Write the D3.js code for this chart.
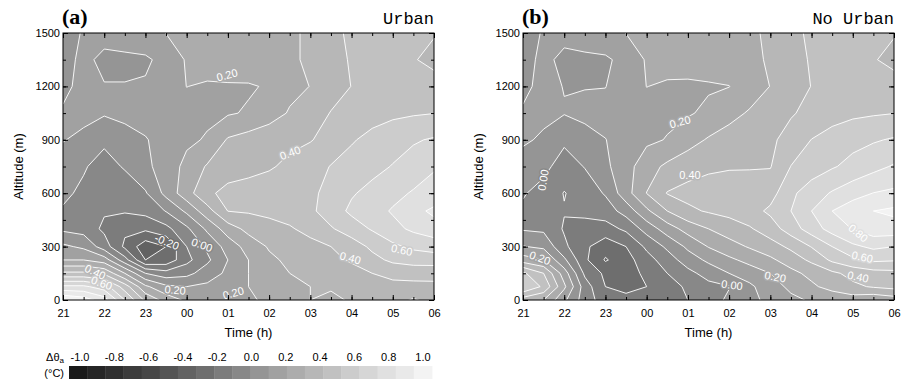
<!DOCTYPE html>
<html>
<head>
<meta charset="utf-8">
<script src="https://cdn.jsdelivr.net/npm/d3@7/dist/d3.min.js"></script>
<style>
body { margin:0; background:#fff; }
text { font-family: "Liberation Sans", Arial, sans-serif; }
</style>
</head>
<body>
<div id="chart"></div>
<script>
// Grid coordinates (hours after 21:00, altitude in m)
const gridHours = [0,0.5,1,1.5,2,2.5,3,3.5,4,4.5,5,5.5,6,6.5,7,7.5,8,8.5,9]
const altitudes = [0,75,150,225,300,400,500,600,750,900,1050,1200,1350,1500]
const hourLabels = ["21","22","23","00","01","02","03","04","05","06"]
const altTicks = [0,300,600,900,1200,1500]
const levels = [-1.0,-0.9,-0.8,-0.7,-0.6,-0.5,-0.4,-0.3,-0.2,-0.1,0.0,0.1,0.2,0.3,0.4,0.5,0.6,0.7,0.8,0.9]
const bandColors = ["#1a1a1a","#252525","#2f2f2f","#3c3c3c","#474747","#545454","#626262","#6e6e6e","#7c7c7c","#888888",
                    "#959595","#a1a1a1","#acacac","#b7b7b7","#c1c1c1","#cccccc","#d6d6d6","#e0e0e0","#e9e9e9","#f3f3f3"]
const barLabels = ["-1.0","-0.8","-0.6","-0.4","-0.2","0.0","0.2","0.4","0.6","0.8","1.0"]

// Δθa, one row per altitude (bottom to top), columns 21:00 ... 06:00 every 30 min
const urban = [
  [1.0,0.95,0.85,0.6,0.38,0.26,0.18,0.15,0.2,0.17,0.24,0.21,0.3,0.26,0.32,0.3,0.34,0.29,0.33],
  [0.72,0.72,0.65,0.45,0.22,0.12,0.1,0.12,0.17,0.2,0.24,0.27,0.3,0.32,0.33,0.35,0.37,0.37,0.38],
  [0.42,0.42,0.38,0.2,0.0,-0.06,-0.03,0.05,0.12,0.2,0.26,0.3,0.33,0.35,0.37,0.4,0.43,0.44,0.43],
  [0.2,0.2,0.15,-0.06,-0.3,-0.27,-0.13,-0.02,0.1,0.2,0.28,0.32,0.35,0.38,0.41,0.47,0.52,0.54,0.55],
  [0.12,0.08,-0.05,-0.22,-0.36,-0.3,-0.1,0.02,0.14,0.24,0.31,0.35,0.37,0.4,0.45,0.52,0.58,0.62,0.64],
  [-0.02,-0.04,-0.12,-0.18,-0.18,-0.13,-0.02,0.12,0.25,0.33,0.37,0.39,0.43,0.49,0.55,0.61,0.67,0.72,0.76],
  [-0.01,-0.05,-0.09,-0.09,-0.07,0.005,0.12,0.26,0.402,0.41,0.42,0.44,0.48,0.55,0.62,0.66,0.71,0.77,0.82],
  [0.02,-0.02,-0.07,-0.06,-0.01,0.13,0.26,0.38,0.43,0.44,0.45,0.46,0.48,0.53,0.59,0.63,0.67,0.71,0.74],
  [0.05,0.01,-0.04,0.01,0.08,0.14,0.23,0.31,0.35,0.37,0.39,0.42,0.45,0.505,0.54,0.57,0.605,0.64,0.69],
  [0.105,0.075,0.02,0.07,0.095,0.13,0.18,0.21,0.31,0.34,0.37,0.38,0.395,0.43,0.49,0.53,0.56,0.59,0.61],
  [0.11,0.13,0.11,0.12,0.13,0.15,0.17,0.18,0.19,0.21,0.25,0.31,0.34,0.405,0.43,0.46,0.48,0.49,0.498],
  [0.08,0.125,0.104,0.104,0.11,0.15,0.201,0.19,0.19,0.19,0.21,0.27,0.302,0.35,0.402,0.43,0.45,0.46,0.46],
  [0.07,0.12,0.08,0.08,0.085,0.13,0.21,0.24,0.26,0.27,0.28,0.29,0.31,0.36,0.41,0.44,0.44,0.41,0.36],
  [0.05,0.11,0.13,0.15,0.17,0.202,0.23,0.25,0.26,0.27,0.28,0.29,0.31,0.37,0.42,0.44,0.43,0.41,0.41]
]
const noUrban = [
  [0.35,0.3,0.12,-0.05,-0.15,-0.18,-0.15,-0.15,-0.1,-0.05,0.02,0.08,0.12,0.18,0.21,0.22,0.25,0.22,0.25],
  [0.6,0.48,0.22,-0.05,-0.2,-0.22,-0.2,-0.15,-0.08,-0.03,-0.005,0.08,0.16,0.22,0.28,0.34,0.38,0.41,0.43],
  [0.52,0.4,0.15,-0.12,-0.22,-0.24,-0.18,-0.1,-0.03,0.04,0.1,0.15,0.2,0.27,0.33,0.38,0.43,0.46,0.47],
  [0.25,0.202,0.02,-0.18,-0.31,-0.24,-0.14,-0.05,0.05,0.12,0.18,0.23,0.28,0.35,0.42,0.52,0.58,0.62,0.61],
  [0.105,0.08,-0.08,-0.18,-0.26,-0.2,-0.08,0.02,0.12,0.205,0.26,0.31,0.36,0.42,0.505,0.6,0.68,0.72,0.7],
  [-0.01,-0.02,-0.11,-0.13,-0.14,-0.08,0.04,0.15,0.24,0.3,0.35,0.39,0.45,0.55,0.65,0.74,0.805,0.86,0.86],
  [-0.02,-0.03,-0.095,-0.08,-0.05,0.04,0.18,0.3,0.38,0.41,0.43,0.46,0.52,0.6,0.7,0.8,0.86,0.9,0.92],
  [0.01,-0.04,-0.104,-0.06,0.01,0.16,0.302,0.405,0.43,0.45,0.46,0.47,0.46,0.58,0.65,0.71,0.76,0.802,0.82],
  [0.04,0.03,-0.05,0.005,0.08,0.16,0.26,0.32,0.36,0.38,0.39,0.39,0.395,0.502,0.55,0.59,0.63,0.67,0.71],
  [0.12,0.08,0.02,0.07,0.098,0.14,0.18,0.205,0.26,0.31,0.34,0.36,0.38,0.44,0.502,0.54,0.57,0.59,0.61],
  [0.11,0.13,0.105,0.12,0.13,0.15,0.17,0.18,0.19,0.22,0.27,0.31,0.35,0.39,0.43,0.46,0.48,0.49,0.498],
  [0.08,0.125,0.097,0.097,0.098,0.15,0.201,0.19,0.185,0.19,0.198,0.25,0.302,0.36,0.402,0.43,0.45,0.46,0.46],
  [0.07,0.12,0.08,0.08,0.085,0.13,0.21,0.23,0.24,0.25,0.26,0.28,0.31,0.36,0.41,0.44,0.44,0.41,0.36],
  [0.05,0.11,0.125,0.15,0.17,0.202,0.23,0.25,0.26,0.27,0.28,0.29,0.31,0.37,0.42,0.44,0.43,0.41,0.41]
]

// contour labels: [hours after 21:00, altitude, text, angle]
const urbanLabels = [
  [3.98,1264,"0.20",-15],[5.51,826,"0.40",-20],[2.52,326,"-0.20",22],[3.37,309,"0.00",20],
  [0.78,157,"0.40",25],[0.94,95,"0.60",20],[2.72,56,"0.20",5],[4.13,39,"0.20",-15],
  [6.97,236,"0.40",15],[8.22,281,"0.60",12]
]
const noUrbanLabels = [
  [3.81,1000,"0.20",-15],[4.05,700,"0.40",0],[0.49,674,"0.00",-80],[0.41,236,"0.20",20],
  [5.07,84,"0.00",8],[6.12,130,"0.20",10],[8.13,130,"0.40",12],[8.23,242,"0.60",12],[8.13,376,"0.80",40]
]

const panels = [
  {grid: urban, labels: urbanLabels, left: 63, tag: "(a)", name: "Urban"},
  {grid: noUrban, labels: noUrbanLabels, left: 523, tag: "(b)", name: "No Urban"}
]

const dims = {width: 905, height: 382, plotW: 371, top: 33, bottom: 300}

const svg = d3.select('#chart').append('svg')
    .attr('width', dims.width)
    .attr('height', dims.height)

const y = d3.scaleLinear().domain([0, 1500]).range([dims.bottom, dims.top])
const idxToHour = d3.scaleLinear().domain(gridHours.map((d, i) => i)).range(gridHours)
const idxToAlt = d3.scaleLinear().domain(altitudes.map((d, i) => i)).range(altitudes)
const color = d3.scaleThreshold().domain(levels.slice(1)).range(bandColors)

const contours = d3.contours()
    .size([gridHours.length, altitudes.length])
    .thresholds(levels)

panels.forEach((p, pi) => {
    const x = d3.scaleLinear().domain([0, 9]).range([p.left, p.left + dims.plotW])
    const proj = d3.geoTransform({
        point(px, py) { this.stream.point(x(idxToHour(px - 0.5)), y(idxToAlt(py - 0.5))) }
    })
    const path = d3.geoPath(proj)
    const shapes = contours(p.grid.flat())

    const clipId = 'clip' + pi
    svg.append('clipPath').attr('id', clipId)
      .append('rect')
        .attr('x', p.left).attr('y', dims.top)
        .attr('width', dims.plotW).attr('height', dims.bottom - dims.top)

    const ctr = svg.append('g').attr('clip-path', `url(#${clipId})`)

    ctr.selectAll('path.fill')
        .data(shapes)
        .join('path')
        .attr('class', 'fill')
        .attr('d', path)
        .attr('fill', (d, i) => bandColors[i])
        .attr('stroke', (d, i) => bandColors[i])
        .attr('stroke-width', 0.3)

    ctr.selectAll('path.iso')
        .data(shapes.slice(1))
        .join('path')
        .attr('class', 'iso')
        .attr('d', path)
        .attr('fill', 'none')
        .attr('stroke', '#fff')
        .attr('stroke-width', 0.9)

    // value under a label, for the halo colour
    const valueAt = (h, a) => {
        const i = Math.max(0, Math.min(gridHours.length - 2, Math.floor(h / 0.5)))
        let j = d3.bisectRight(altitudes, a) - 1
        j = Math.max(0, Math.min(altitudes.length - 2, j))
        const fx = (h - gridHours[i]) / (gridHours[i + 1] - gridHours[i])
        const fy = (a - altitudes[j]) / (altitudes[j + 1] - altitudes[j])
        const g = p.grid
        return (1 - fy) * ((1 - fx) * g[j][i] + fx * g[j][i + 1]) + fy * ((1 - fx) * g[j + 1][i] + fx * g[j + 1][i + 1])
    }

    ctr.selectAll('text.lab')
        .data(p.labels)
        .join('text')
        .attr('class', 'lab')
        .attr('transform', d => `translate(${x(d[0])},${y(d[1])}) rotate(${d[3]})`)
        .attr('text-anchor', 'middle')
        .attr('dy', '0.35em')
        .attr('font-size', 11)
        .attr('fill', '#fff')
        .attr('stroke', d => color(valueAt(d[0], d[1])))
        .attr('stroke-width', 3)
        .attr('paint-order', 'stroke')
        .text(d => d[2])

    // Axes
    const axG = svg.append('g')
    const xMinor = d3.axisBottom(x).tickValues(gridHours).tickSize(-3).tickFormat('')
    const xMajor = d3.axisBottom(x).tickValues(d3.range(10)).tickSize(-5).tickPadding(9)
        .tickFormat((d, i) => hourLabels[i])
    const yMinor = d3.axisLeft(y).tickValues(d3.range(0, 1501, 150)).tickSize(-3).tickFormat('')
    const yMajor = d3.axisLeft(y).tickValues(altTicks).tickSize(-5).tickPadding(3).tickFormat(d3.format('d'))

    const place = (axis, tx, ty) => {
        const g = axG.append('g').attr('transform', `translate(${tx},${ty})`).call(axis)
        g.select('.domain').remove()
        g.selectAll('text').attr('font-size', 11).attr('fill', '#000')
          .style('font-family', '"Liberation Sans", Arial, sans-serif')
        return g
    }
    place(xMinor, 0, dims.bottom)
    place(xMajor, 0, dims.bottom)
    place(d3.axisTop(x).tickValues(gridHours).tickSize(-3).tickFormat(''), 0, dims.top)
    place(d3.axisTop(x).tickValues(d3.range(10)).tickSize(-5).tickFormat(''), 0, dims.top)
    place(yMinor, p.left, 0)
    place(yMajor, p.left, 0)
    place(d3.axisRight(y).tickValues(d3.range(0, 1501, 150)).tickSize(-3).tickFormat(''), p.left + dims.plotW, 0)
    place(d3.axisRight(y).tickValues(altTicks).tickSize(-5).tickFormat(''), p.left + dims.plotW, 0)

    svg.append('rect')
        .attr('x', p.left).attr('y', dims.top)
        .attr('width', dims.plotW).attr('height', dims.bottom - dims.top)
        .attr('fill', 'none').attr('stroke', '#000').attr('stroke-width', 1)

    svg.append('text')
        .text('Time (h)')
        .attr('x', p.left + dims.plotW / 2)
        .attr('y', 337)
        .attr('text-anchor', 'middle')
        .attr('font-size', 13)

    svg.append('text')
        .text('Altitude (m)')
        .attr('transform', `translate(${p.left - 40},${(dims.top + dims.bottom) / 2}) rotate(-90)`)
        .attr('text-anchor', 'middle')
        .attr('font-size', 13)

    svg.append('text')
        .text(p.tag)
        .attr('x', p.left - 1)
        .attr('y', 24)
        .attr('font-size', 22)
        .attr('font-weight', 'bold')
        .style('font-family', '"Liberation Serif", "Times New Roman", serif')

    svg.append('text')
        .text(p.name)
        .attr('x', p.left + dims.plotW)
        .attr('y', 24)
        .attr('text-anchor', 'end')
        .attr('font-size', 17)
        .style('font-family', '"Liberation Mono", "Courier New", monospace')
})

// Colour bar
const cb = d3.scaleBand().domain(bandColors.map((d, i) => i)).range([69, 432])
svg.append('g').selectAll('rect')
    .data(bandColors)
    .join('rect')
    .attr('x', (d, i) => cb(i))
    .attr('y', 366)
    .attr('width', cb.bandwidth() + 0.4)
    .attr('height', 13)
    .attr('fill', d => d)

const cbLab = d3.scaleLinear().domain([0, barLabels.length - 1]).range([80, 423])
svg.append('g').selectAll('text')
    .data(barLabels)
    .join('text')
    .attr('x', (d, i) => cbLab(i))
    .attr('y', 361)
    .attr('text-anchor', 'middle')
    .attr('font-size', 11)
    .text(d => d)

const unit = svg.append('text').attr('x', 64).attr('y', 361).attr('text-anchor', 'end').attr('font-size', 11)
unit.append('tspan').text('Δθ')
unit.append('tspan').text('a').attr('font-size', 8).attr('dy', 2)
svg.append('text').attr('x', 64).attr('y', 377).attr('text-anchor', 'end').attr('font-size', 11).text('(°C)')
</script>
</body>
</html>
